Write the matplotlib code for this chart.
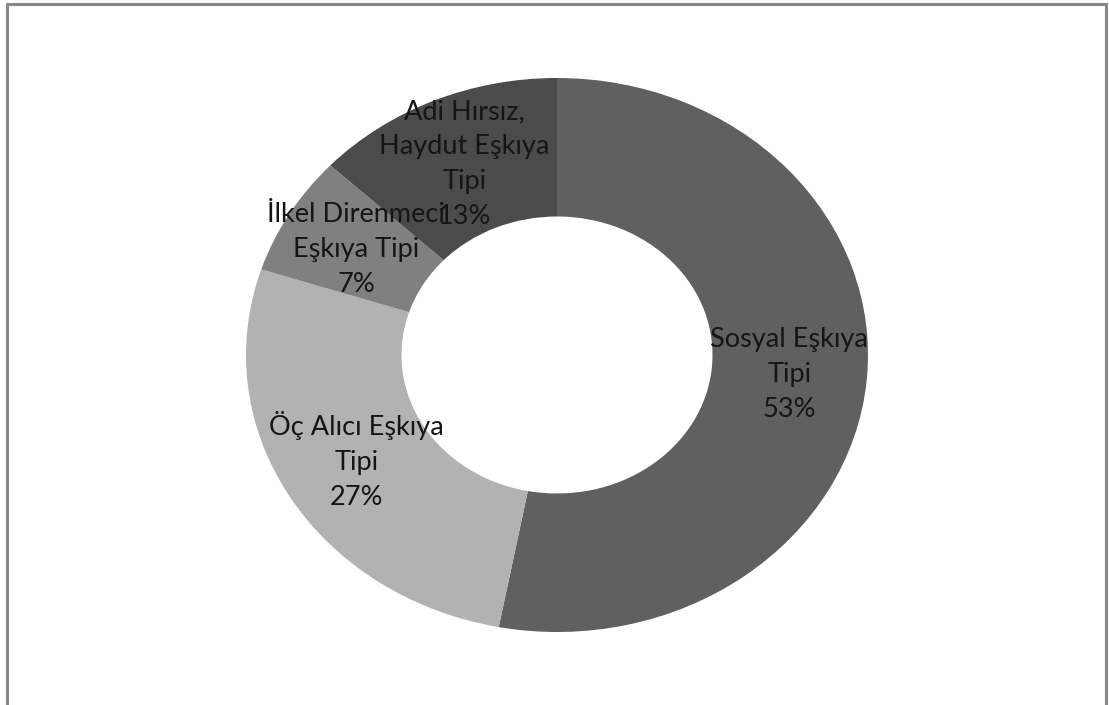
import matplotlib
matplotlib.use("Agg")
import matplotlib.pyplot as plt
from matplotlib.patches import Rectangle

categories = ["Sosyal Eşkıya\nTipi", "Öç Alıcı Eşkıya\nTipi", "İlkel Direnmeci\nEşkıya Tipi", "Adi Hırsız,\nHaydut Eşkıya\nTipi"]
values = [53, 27, 7, 13]
colors = ["#606060", "#b2b2b2", "#808080", "#4b4b4b"]

W, H = 1109, 705
fig = plt.figure(figsize=(W / 100, H / 100), dpi=100)
fig.patch.set_facecolor("white")

cx, cy, rx, ry = 557, 355, 311, 277
ax = fig.add_axes([(cx - rx) / W, (H - cy - ry) / H, 2 * rx / W, 2 * ry / H])

labels = [f"{c}\n{v}%" for c, v in zip(categories, values)]
wedges, texts = ax.pie(values, colors=colors, startangle=90, counterclock=False,
                       radius=1.0, labels=labels, labeldistance=0.75,
                       wedgeprops=dict(width=0.5, linewidth=0),
                       textprops=dict(fontfamily="Lato", fontsize=19.5, color="#151515",
                                      linespacing=1.5))
for t in texts:
    t.set_horizontalalignment("center")
    t.set_verticalalignment("center")
ax.set_aspect("auto")
ax.set_xlim(-1, 1)
ax.set_ylim(-1, 1)
ax.axis("off")

frame = Rectangle((7 / W, -0.1), (1106 - 7) / W, 1.1 - 4 / H, transform=fig.transFigure,
                  fill=False, edgecolor="#888888", linewidth=2.2)
fig.patches.append(frame)

fig.savefig("out.png", dpi=100, facecolor="white")
